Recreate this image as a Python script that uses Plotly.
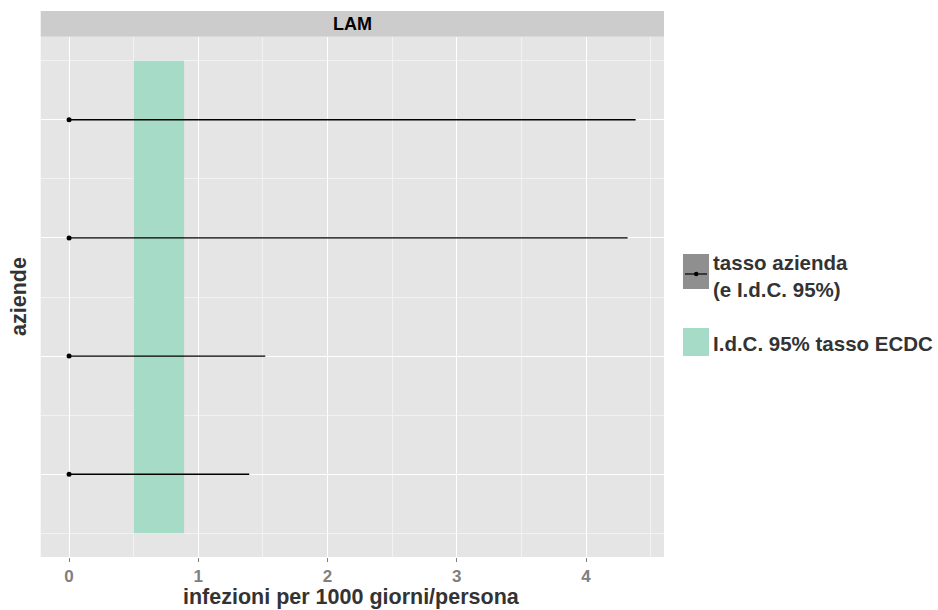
import plotly.graph_objects as go

# Infection rates per 1000 person-days, one row per company (LAM facet)
aziende = [1, 2, 3, 4]
tasso = [0.0, 0.0, 0.0, 0.0]
ic_inf = [0.0, 0.0, 0.0, 0.0]
ic_sup = [1.394, 1.518, 4.322, 4.384]

# ECDC reference rate 95% confidence interval
ecdc_inf = 0.50
ecdc_sup = 0.89
ecdc_y = [0.5, 4.5]

x_ticks = [0, 1, 2, 3, 4]

W, H = 938, 610
px_x = lambda p: p / W
px_y = lambda p: 1 - p / H

GREEN = "#A6DBC7"
FONT = "Liberation Sans, Arial, sans-serif"

fig = go.Figure()

# ECDC interval band
fig.add_trace(go.Scatter(
    x=[ecdc_inf, ecdc_sup, ecdc_sup, ecdc_inf, ecdc_inf],
    y=[ecdc_y[0], ecdc_y[0], ecdc_y[1], ecdc_y[1], ecdc_y[0]],
    mode="lines", fill="toself", fillcolor=GREEN,
    line=dict(width=0, color=GREEN), hoverinfo="skip", showlegend=False,
))

# Company rate confidence intervals
for yv, lo, hi in zip(aziende, ic_inf, ic_sup):
    fig.add_trace(go.Scatter(
        x=[lo, hi], y=[yv, yv], mode="lines",
        line=dict(color="black", width=1.3), showlegend=False, hoverinfo="skip",
    ))

# Point estimates
fig.add_trace(go.Scatter(
    x=tasso, y=aziende, mode="markers",
    marker=dict(color="black", size=5), showlegend=False,
))

panel_left, panel_right = 40.7, 664
panel_top, panel_bottom = 37, 557

fig.update_layout(
    width=W, height=H,
    margin=dict(l=0, r=0, t=0, b=0),
    paper_bgcolor="white",
    plot_bgcolor="#E5E5E5",
    font=dict(family=FONT),
    showlegend=False,
    xaxis=dict(
        domain=[px_x(panel_left), px_x(panel_right)],
        range=[-0.2195, 4.6035],
        tickvals=x_ticks, ticktext=[str(t) for t in x_ticks],
        tickfont=dict(family=FONT, size=17, color="#7F7F7F", weight="bold"),
        ticks="outside", ticklen=4, tickwidth=1.2, tickcolor="#7F7F7F",
        showgrid=True, gridcolor="#FFFFFF", gridwidth=1.2,
        minor=dict(tickvals=[0.5, 1.5, 2.5, 3.5, 4.5], showgrid=True,
                   gridcolor="#F2F2F2", gridwidth=0.6, ticks=""),
        zeroline=False, showline=False, fixedrange=True,
    ),
    yaxis=dict(
        domain=[px_y(panel_bottom), px_y(panel_top)],
        range=[0.3, 4.7],
        tickvals=aziende, ticktext=["" for _ in aziende],
        showgrid=True, gridcolor="#FFFFFF", gridwidth=1.2,
        minor=dict(tickvals=[0.5, 1.5, 2.5, 3.5, 4.5], showgrid=True,
                   gridcolor="#F2F2F2", gridwidth=0.6, ticks=""),
        zeroline=False, showline=False, ticks="", fixedrange=True,
    ),
)

shapes = []
annotations = []

# Facet strip
shapes.append(dict(type="rect", xref="paper", yref="paper",
                   x0=px_x(panel_left), x1=px_x(panel_right),
                   y0=px_y(36.7), y1=px_y(11),
                   fillcolor="#CCCCCC", line=dict(width=0), layer="below"))
annotations.append(dict(text="LAM", xref="paper", yref="paper",
                        x=px_x((panel_left + panel_right) / 2), y=px_y(24.5),
                        xanchor="center", yanchor="middle", showarrow=False,
                        font=dict(family=FONT, size=18, color="black", weight="bold")))

# Axis titles
annotations.append(dict(text="infezioni per 1000 giorni/persona", xref="paper", yref="paper",
                        x=px_x(351), y=px_y(596.5), xanchor="center", yanchor="middle",
                        showarrow=False,
                        font=dict(family=FONT, size=21.5, color="#333333", weight="bold")))
annotations.append(dict(text="aziende", xref="paper", yref="paper",
                        x=px_x(19), y=px_y(297), xanchor="center", yanchor="middle",
                        textangle=-90, showarrow=False,
                        font=dict(family=FONT, size=21.5, color="#333333", weight="bold")))

# Legend: company rate key
shapes.append(dict(type="rect", xref="paper", yref="paper",
                   x0=px_x(683), x1=px_x(709), y0=px_y(289), y1=px_y(254),
                   fillcolor="#8F8F8F", line=dict(width=0)))
shapes.append(dict(type="line", xref="paper", yref="paper",
                   x0=px_x(685), x1=px_x(707), y0=px_y(274), y1=px_y(274),
                   line=dict(color="black", width=1.2)))
shapes.append(dict(type="circle", xref="paper", yref="paper",
                   x0=px_x(694), x1=px_x(698.5), y0=px_y(276.3), y1=px_y(271.8),
                   fillcolor="black", line=dict(width=0)))
annotations.append(dict(text="tasso azienda<br>(e I.d.C. 95%)", xref="paper", yref="paper",
                        x=px_x(711), y=px_y(276), xanchor="left", yanchor="middle",
                        align="left", showarrow=False,
                        font=dict(family=FONT, size=20.5, color="#333333", weight="bold")))

# Legend: ECDC interval key
shapes.append(dict(type="rect", xref="paper", yref="paper",
                   x0=px_x(683), x1=px_x(709), y0=px_y(356), y1=px_y(328),
                   fillcolor=GREEN, line=dict(width=0)))
annotations.append(dict(text="I.d.C. 95% tasso ECDC", xref="paper", yref="paper",
                        x=px_x(711), y=px_y(343), xanchor="left", yanchor="middle",
                        align="left", showarrow=False,
                        font=dict(family=FONT, size=20.5, color="#333333", weight="bold")))

fig.update_layout(shapes=shapes, annotations=annotations)

fig.write_html("out.html")
